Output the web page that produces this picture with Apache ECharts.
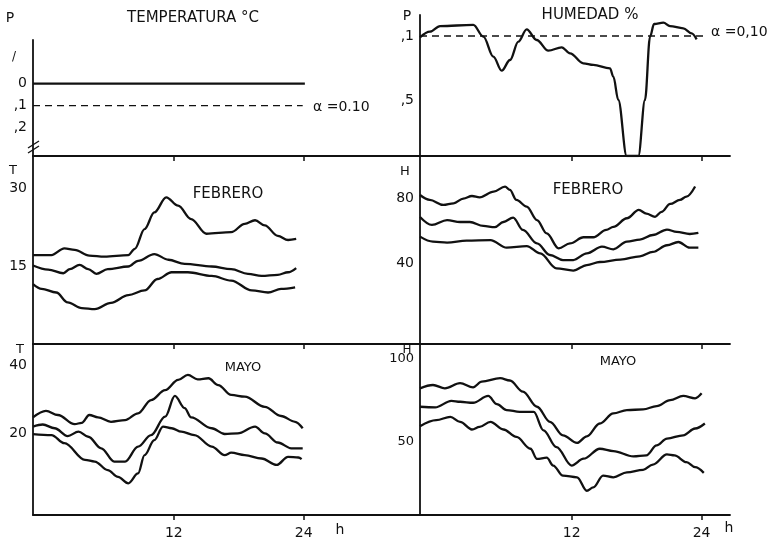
<!DOCTYPE html>
<html>
<head>
<meta charset="utf-8">
<script src="https://cdn.jsdelivr.net/npm/echarts@6/dist/echarts.min.js"></script>
<style>
html,body{margin:0;padding:0;background:#fff}
#main{width:771px;height:542px}
</style>
</head>
<body>
<div id="main"></div>
<script>
// horas (h) y valores
var hourTicks = [12, 24];
var alphaLevel = 0.10;

// P - temperatura: linea en 0 todo el dia
var pTemp = [[-1, 0], [24.1, 0]];
var pTempAlpha = [[-1, alphaLevel], [23.9, alphaLevel]];
// P - humedad
var pHum = [[-2,0.108],[-1.08,0.073],[-0.15,0.038],[2.92,0.031],[3.85,0.104],[4.77,0.229],[5.54,0.317],
    [6.31,0.25],[7.08,0.135],[7.85,0.058],[8.77,0.125],[9.85,0.192],[11.08,0.171],[11.85,0.208],
    [13.08,0.271],[14.0,0.281],[15.54,0.302],[15.85,0.354],[16.31,0.5],[17.08,0.85],[18.16,0.85],
    [18.77,0.5],[19.24,0.104],[19.61,0.025],[20.47,0.017],[21.08,0.038],[22.31,0.052],[23.08,0.083],[23.54,0.121]];
var pHumAlpha = [[-2, alphaLevel], [24.2, alphaLevel]];

// temperatura febrero (max, media, min)
var febTMax = [[-1,17.1],[0.7,17.1],[1.9,18.4],[2.85,18.1],[4.2,17.0],[5.6,16.8],[7.8,17.1],[8.4,18.3],[9.3,22.1],
    [10.2,25.3],[11.3,28.2],[12.4,26.6],[13.6,24.0],[15.0,21.2],[17.3,21.5],[18.55,23.1],[19.5,23.8],[20.4,22.8],
    [21.6,20.8],[22.55,20.0],[23.3,20.2]];
var febTMed = [[-1,15.1],[0.4,14.3],[1.8,13.6],[2.4,14.4],[3.3,15.2],[4.1,14.4],[4.85,13.5],[5.9,14.4],[7.8,14.9],
    [8.7,16.0],[10.2,17.3],[11.5,16.2],[13.0,15.4],[15.5,14.9],[17.3,14.4],[18.85,13.5],[20.1,13.1],[21.6,13.3],
    [22.55,13.8],[23.3,14.6]];
var febTMin = [[-1,11.5],[-0.2,10.6],[1.15,9.9],[2.2,8.0],[3.5,6.9],[4.7,6.7],[6.2,7.9],[7.8,9.4],[9.3,10.3],
    [10.5,12.5],[11.8,13.8],[13.3,13.8],[15.5,13.1],[17.3,12.2],[19.2,10.3],[20.7,9.9],[21.9,10.6],[23.2,10.9]];

// humedad febrero
var febHMax = [[-2,82.0],[-1.1,79.0],[0.15,75.9],[1.1,76.9],[2.0,79.8],[2.8,81.4],[3.5,80.6],[4.8,84.1],[5.85,87.2],
    [6.3,85.1],[6.9,79.0],[7.85,74.9],[8.8,66.6],[9.7,58.4],[10.8,49.2],[11.85,52.2],[13.1,56.0],[14.0,56.0],
    [15.2,60.5],[15.85,62.4],[17.1,67.7],[18.2,72.8],[18.9,70.6],[19.7,68.6],[20.3,71.6],[21.1,76.5],[22.0,79.0],
    [22.6,81.0],[23.4,87.2]];
var febHMed = [[-2,68.5],[-0.9,63.6],[0.5,66.6],[1.7,65.4],[2.6,65.4],[3.85,63.0],[4.9,62.2],[5.7,65.4],[6.6,68.1],
    [7.5,60.5],[8.8,52.2],[10.0,45.1],[11.2,42.0],[12.15,42.0],[13.4,46.1],[14.8,50.2],[15.85,48.6],[17.1,53.3],
    [18.3,54.6],[19.5,57.4],[20.8,60.7],[21.7,59.3],[22.9,58.0],[23.7,58.7]];
var febHMin = [[-2,56.4],[-0.8,53.3],[0.5,52.7],[2.3,53.9],[4.5,54.3],[6.0,49.6],[7.85,50.6],[9.1,46.1],[10.6,36.9],
    [12.15,35.5],[13.4,38.9],[14.6,40.8],[16.5,42.3],[18.3,44.3],[19.5,47.0],[20.8,51.1],[21.85,53.1],[22.9,49.6],[23.7,49.6]];

// temperatura mayo
var mayTMax = [[-1,24.6],[0.2,26.5],[1.3,25.3],[2.85,22.6],[3.5,23.0],[4.2,25.3],[5.0,24.6],[6.2,23.3],[7.5,23.8],
    [8.7,25.8],[9.9,29.7],[11.2,32.6],[12.4,35.6],[13.3,37.1],[14.2,35.8],[15.2,36.1],[16.1,34.1],[17.3,31.2],
    [18.55,30.7],[20.4,27.7],[21.9,25.0],[23.2,23.3],[23.9,21.4]];
var mayTMed = [[-1,21.9],[-0.1,22.5],[1.0,21.4],[2.2,19.1],[3.2,20.4],[4.1,18.9],[5.3,15.5],[6.5,11.6],[7.5,11.6],
    [8.7,16.0],[9.9,19.4],[11.2,24.8],[12.1,30.9],[13.0,27.3],[13.6,24.6],[15.5,21.4],[16.7,19.7],[17.9,19.9],
    [19.5,21.9],[20.4,19.9],[21.6,17.2],[22.85,15.5],[23.9,15.5]];
var mayTMin = [[-1,19.7],[0.7,19.4],[1.9,17.0],[3.8,12.1],[4.7,11.6],[5.9,9.1],[6.85,7.1],[7.8,5.2],[8.7,8.1],
    [9.3,13.5],[10.2,17.9],[11.0,21.9],[11.8,21.4],[12.7,20.4],[13.9,19.4],[15.5,16.0],[16.7,13.5],[17.3,14.2],
    [18.55,13.5],[20.1,12.5],[21.5,10.6],[22.55,13.0],[23.5,12.8],[23.8,12.3]];

// humedad mayo
var mayHMax = [[-2,82.3],[-0.8,84.3],[0.3,82.3],[1.7,85.4],[2.9,82.9],[3.7,86.3],[5.4,88.4],[6.3,87.0],[7.5,80.3],
    [8.8,71.2],[10.0,62.1],[11.2,54.0],[12.5,49.4],[13.4,53.4],[14.6,61.1],[15.85,67.2],[17.1,69.2],[18.6,69.6],
    [19.85,71.6],[21.1,75.2],[22.3,77.7],[23.4,76.3],[24.0,79.3]];
var mayHMed = [[-2,71.2],[-0.6,70.8],[0.9,74.8],[1.7,74.2],[2.9,73.6],[4.3,77.7],[5.1,72.8],[6.0,69.2],[7.2,68.1],
    [8.5,68.1],[9.4,57.0],[10.6,46.9],[12.0,35.8],[13.1,39.9],[14.6,45.9],[15.85,44.5],[17.7,41.3],[18.9,41.9],
    [19.85,47.9],[20.8,52.0],[22.3,54.0],[23.4,58.1],[24.3,61.1]];
var mayHMin = [[-2,59.5],[-0.5,63.1],[0.8,65.1],[1.7,62.1],[2.8,57.5],[3.5,59.1],[4.5,62.1],[5.7,57.5],[6.9,53.0],
    [8.2,45.9],[8.8,39.8],[9.7,40.5],[10.3,35.8],[11.2,29.7],[12.5,28.7],[13.4,20.6],[14.0,22.6],[14.9,29.7],
    [15.85,28.7],[17.1,31.7],[18.6,33.2],[19.5,36.4],[20.8,42.5],[21.5,41.9],[22.6,37.8],[23.4,34.8],[24.2,31.4]];

var ink = '#111';
var font = 'DejaVu Sans';

function xAx(idx, min, max, showLabel) {
    return {
        gridIndex: idx, type: 'value', min: min, max: max,
        axisLine: { show: true, onZero: false, lineStyle: { color: ink, width: 1.8 } },
        axisTick: { show: true, customValues: hourTicks, length: 5, lineStyle: { color: ink, width: 1.5 } },
        axisLabel: { show: showLabel, customValues: hourTicks, margin: 11, fontSize: 14, color: ink, fontFamily: font },
        splitLine: { show: false }
    };
}
function yAx(idx, min, max, inverse, vals, fmt, size) {
    return {
        gridIndex: idx, type: 'value', min: min, max: max, inverse: inverse,
        axisLine: { show: true, onZero: false, lineStyle: { color: ink, width: 1.8 } },
        axisTick: { show: false },
        axisLabel: { customValues: vals, formatter: fmt, margin: 6, fontSize: size || 14, color: ink, fontFamily: font },
        splitLine: { show: false }
    };
}
function pFmt(v) { return v === 0 ? '0' : ',' + Math.round(v * 10); }

function curve(data, idx) {
    return {
        type: 'line', xAxisIndex: idx, yAxisIndex: idx, data: data,
        smooth: 0.35, smoothMonotone: 'x', showSymbol: false, silent: true,
        lineStyle: { color: ink, width: 2.3 }
    };
}
function dashed(data, idx) {
    return {
        type: 'line', xAxisIndex: idx, yAxisIndex: idx, data: data,
        showSymbol: false, silent: true,
        lineStyle: { color: ink, width: 1.3, type: [7, 5] }
    };
}
function txt(x, y, s, size, align) {
    return { type: 'text', x: x, y: y, silent: true, z: 100,
        style: { text: s, fill: ink, font: size + 'px "' + font + '"', align: align || 'center', verticalAlign: 'middle' } };
}

var myChart = echarts.init(document.getElementById('main'));
var option = {
    animation: false,
    backgroundColor: '#fff',
    grid: [
        { left: 33, top: 40, width: 387, height: 116 },
        { left: 420, top: 15, width: 310, height: 141 },
        { left: 33, top: 156, width: 387, height: 188 },
        { left: 420, top: 156, width: 310, height: 188 },
        { left: 33, top: 344, width: 387, height: 171 },
        { left: 420, top: 344, width: 310, height: 171 }
    ],
    xAxis: [
        xAx(0, -1, 34.73, false),
        xAx(1, -2, 26.62, false),
        xAx(2, -1, 34.73, false),
        xAx(3, -2, 26.62, false),
        xAx(4, -1, 34.73, true),
        xAx(5, -2, 26.62, true)
    ],
    yAxis: [
        yAx(0, -0.2, 0.331, true, [0, 0.1, 0.2], pFmt),
        yAx(1, -0.03125, 0.85, true, [0.1, 0.5], pFmt),
        yAx(2, 0, 36.15, false, [15, 30]),
        yAx(3, -9.66, 106.0, false, [40, 80]),
        yAx(4, -4.12, 46.18, false, [20, 40]),
        yAx(5, 6.0, 109.0, false, [50, 100], null, 13)
    ],
    series: [
        curve(pTemp, 0), dashed(pTempAlpha, 0),
        curve(pHum, 1), dashed(pHumAlpha, 1),
        curve(febTMax, 2), curve(febTMed, 2), curve(febTMin, 2),
        curve(febHMax, 3), curve(febHMed, 3), curve(febHMin, 3),
        curve(mayTMax, 4), curve(mayTMed, 4), curve(mayTMin, 4),
        curve(mayHMax, 5), curve(mayHMed, 5), curve(mayHMin, 5)
    ],
    graphic: [
        txt(193, 18, 'TEMPERATURA °C', 15),
        txt(590, 15, 'HUMEDAD %', 15),
        txt(228, 194, 'FEBRERO', 15),
        txt(588, 190, 'FEBRERO', 15),
        txt(243, 368, 'MAYO', 13),
        txt(618, 362, 'MAYO', 13),
        txt(10, 18, 'P', 14),
        txt(407, 16, 'P', 14),
        txt(13, 171, 'T', 13),
        txt(405, 172, 'H', 13),
        txt(20, 350, 'T', 13),
        txt(407, 350, 'H', 12),
        txt(340, 530, 'h', 14),
        txt(729, 528, 'h', 14),
        txt(14, 57, '/', 12),
        txt(313, 107, 'α =0.10', 14, 'left'),
        txt(711, 32, 'α =0,10', 14, 'left'),
        { type: 'line', silent: true, shape: { x1: 28, y1: 148, x2: 39, y2: 141 }, style: { stroke: ink, lineWidth: 1.4 } },
        { type: 'line', silent: true, shape: { x1: 28, y1: 153, x2: 39, y2: 146 }, style: { stroke: ink, lineWidth: 1.4 } }
    ]
};
myChart.setOption(option);
</script>
</body>
</html>
